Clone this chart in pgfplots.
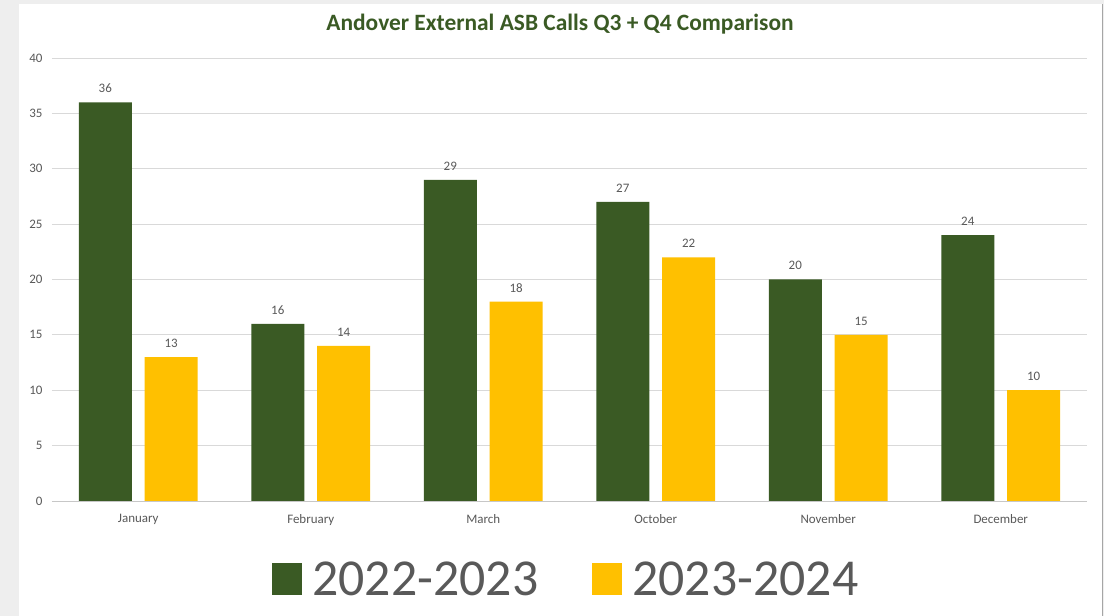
\documentclass[border=0pt]{standalone}
\usepackage{pgfplots}
\pgfplotsset{compat=1.18}
\usepackage{fontspec}
\setmainfont{Carlito}
\definecolor{dgreen}{HTML}{3A5A24}
\definecolor{gold}{HTML}{FFC000}
\definecolor{txt}{HTML}{595959}
\definecolor{gridc}{HTML}{D9D9D9}
\definecolor{bgc}{HTML}{EEEEEE}
\begin{document}
\begin{tikzpicture}[x=1bp,y=1bp]
\useasboundingbox (-52,-115) rectangle (1052,501);
\fill[bgc] (-52,-115) rectangle (1052,501);
\fill[white] (-33,-115) rectangle (1050,497);
\draw[gray!70, line width=1.2bp] (1050.5,-115) -- (1050.5,497);
\begin{axis}[
  at={(0,0)}, anchor=south west,
  scale only axis, width=1035bp, height=443bp,
  xmin=-0.5, xmax=5.5, ymin=0, ymax=40,
  ytick={0,5,...,40},
  xtick={0,...,5},
  xticklabels={January,February,March,October,November,December},
  axis line style={draw=none},
  ymajorgrids, grid style={gridc, line width=0.8bp},
  major tick length=0pt,
  tick label style={font=\fontsize{13}{15}\selectfont, text=txt},
  /pgf/number format/assume math mode=true,
  xticklabel style={yshift=-10bp},
  yticklabel style={xshift=-6bp},
  ybar, bar width=0.307,
  nodes near coords,
  every node near coord/.append style={font=\fontsize{13}{15}\selectfont, text=txt, yshift=6bp},
  legend style={at={(0.497,-0.127)}, anchor=north, draw=none, fill=none,
    legend columns=2, font=\fontsize{52}{56}\selectfont, text=txt,
    /tikz/every even column/.append style={column sep=52bp}},
  legend image code/.code={\fill (0bp,-16bp) rectangle (30bp,16bp); \path (38bp,0);},
  clip=false,
]
\addplot[fill=dgreen, draw=none, bar shift=-0.191] coordinates {(0,36) (1,16) (2,29) (3,27) (4,20) (5,24)};
\addlegendentry{2022-2023}
\addplot[fill=gold, draw=none, bar shift=0.191] coordinates {(0,13) (1,14) (2,18) (3,22) (4,15) (5,10)};
\addlegendentry{2023-2024}
\draw[gridc!80!gray, line width=0.8bp] (axis cs:-0.5,0) -- (axis cs:5.5,0);
\end{axis}
\node[font=\fontsize{23.5}{27}\bfseries, text=dgreen] at (508,477) {Andover External ASB Calls Q3 + Q4 Comparison};
\end{tikzpicture}
\end{document}
